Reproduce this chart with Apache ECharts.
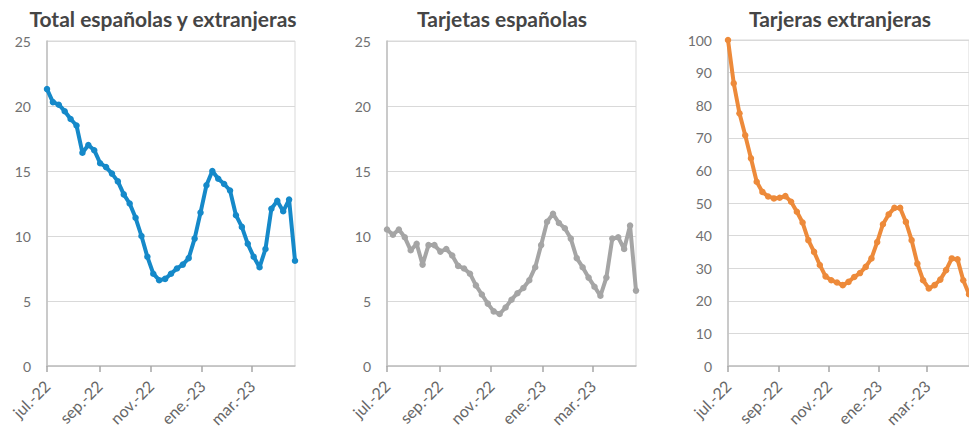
<!DOCTYPE html>
<html>
<head>
<meta charset="utf-8">
<script src="https://cdn.jsdelivr.net/npm/echarts@6/dist/echarts.min.js"></script>
<style>
html,body{margin:0;padding:0;background:#fff;}
#c{width:969px;height:437px;}
</style>
</head>
<body>
<div id="c"></div>
<script>
const weeks = ['2022-07-01','2022-07-08','2022-07-15','2022-07-22','2022-07-29','2022-08-05','2022-08-12','2022-08-19','2022-08-26',
  '2022-09-02','2022-09-09','2022-09-16','2022-09-23','2022-09-30','2022-10-07','2022-10-14','2022-10-21','2022-10-28',
  '2022-11-04','2022-11-11','2022-11-18','2022-11-25','2022-12-02','2022-12-09','2022-12-16','2022-12-23','2022-12-30',
  '2023-01-06','2023-01-13','2023-01-20','2023-01-27','2023-02-03','2023-02-10','2023-02-17','2023-02-24',
  '2023-03-03','2023-03-10','2023-03-17','2023-03-24','2023-03-31','2023-04-07','2023-04-14','2023-04-21'];

const totalVals = [21.3,20.3,20.1,19.6,19.0,18.5,16.4,17.0,16.6,15.6,15.3,14.8,14.2,13.2,12.5,11.4,10.0,8.4,7.1,6.6,
  6.7,7.1,7.5,7.8,8.3,9.8,11.8,13.9,15.0,14.4,14.0,13.5,11.6,10.7,9.4,8.4,7.6,9.0,12.1,12.7,11.9,12.8,8.1];
const espVals = [10.5,10.1,10.5,9.9,8.9,9.4,7.8,9.3,9.3,8.8,9.0,8.5,7.7,7.5,7.1,6.2,5.5,4.8,4.2,4.0,
  4.5,5.1,5.6,6.0,6.6,7.6,9.3,11.1,11.7,11.0,10.6,9.8,8.3,7.6,6.8,6.1,5.4,6.8,9.8,9.9,9.0,10.8,5.8];
const extVals = [100,86.7,77.5,70.8,63.7,56.5,53.4,52.0,51.4,51.6,52.1,50.4,47.3,44.0,38.6,35.0,31.0,27.5,26.3,25.6,
  24.8,25.8,27.3,28.5,30.4,33.0,38.0,43.5,46.5,48.5,48.5,44.2,38.6,31.4,26.3,23.8,24.8,26.5,29.4,33.0,32.7,26.3,22.0];

const tickDates = ['2022-07-01','2022-09-01','2022-11-01','2023-01-01','2023-03-01'];
const tickLabels = ['jul.-22','sep.-22','nov.-22','ene.-23','mar.-23'];
const titles = ['Total españolas y extranjeras','Tarjetas españolas','Tarjeras extranjeras'];
const yMax = [25, 25, 100];
const yStep = [5, 5, 10];
const colors = ['#1589c9', '#a5a5a5', '#ed8a3a'];

// day offset from the first week (date axis)
function day(s){
  const p = s.split('-').map(Number), q = weeks[0].split('-').map(Number);
  return Math.round((Date.UTC(p[0], p[1]-1, p[2]) - Date.UTC(q[0], q[1]-1, q[2])) / 86400000);
}
const tickDays = tickDates.map(day);
const lastDay = day(weeks[weeks.length - 1]);

const seriesVals = [totalVals, espVals, extVals];
const grids = [
  {left: 47, top: 41, width: 248, height: 325},
  {left: 387, top: 41, width: 249, height: 325},
  {left: 728, top: 40, width: 247, height: 326}
];
const titlePos = [[163, 18], [502, 18], [840, 18]];
const font = 'Lato';

const chart = echarts.init(document.getElementById('c'), null, {renderer: 'svg'});
const option = {
  animation: false,
  backgroundColor: '#ffffff',
  textStyle: {fontFamily: font},
  graphic: titles.map((txt, i) => ({
    type: 'text', x: titlePos[i][0], y: titlePos[i][1],
    style: {text: txt, align: 'center', verticalAlign: 'middle', font: 'bold 21px ' + font, fill: '#454545'}
  })),
  grid: grids.map(g => Object.assign({show: true, borderColor: '#d9d9d9', borderWidth: 1, backgroundColor: 'transparent'}, g)),
  xAxis: grids.map((g, i) => ({
    type: 'value', gridIndex: i,
    min: 0, max: lastDay,
    splitLine: {show: false},
    axisLine: {show: true, onZero: false, lineStyle: {color: '#bfbfbf', width: 1.5}},
    axisTick: {show: true, length: 6, customValues: tickDays, lineStyle: {color: '#a6a6a6', width: 1.5}},
    axisLabel: {
      show: true, rotate: 45, margin: 17, fontSize: 16, color: '#666666', fontFamily: font,
      customValues: tickDays, showMinLabel: true, showMaxLabel: true, hideOverlap: false,
      formatter: function (v) { const k = tickDays.indexOf(Math.round(v)); return k >= 0 ? tickLabels[k] : ''; }
    }
  })),
  yAxis: grids.map((g, i) => ({
    type: 'value', gridIndex: i, min: 0, max: yMax[i], interval: yStep[i],
    axisLine: {show: true, lineStyle: {color: '#bfbfbf', width: 1.5}},
    axisTick: {show: false},
    splitLine: {show: true, lineStyle: {color: '#d9d9d9', width: 1}},
    axisLabel: {margin: 16, fontSize: 14, color: '#707070', fontFamily: font}
  })),
  series: seriesVals.map((vals, i) => ({
    type: 'line', xAxisIndex: i, yAxisIndex: i,
    data: weeks.map((w, k) => [day(w), vals[k]]),
    symbol: 'circle', symbolSize: 6.5, showSymbol: true,
    lineStyle: {color: colors[i], width: 4},
    itemStyle: {color: colors[i]},
    emphasis: {disabled: true}
  }))
};
chart.setOption(option);
</script>
</body>
</html>
